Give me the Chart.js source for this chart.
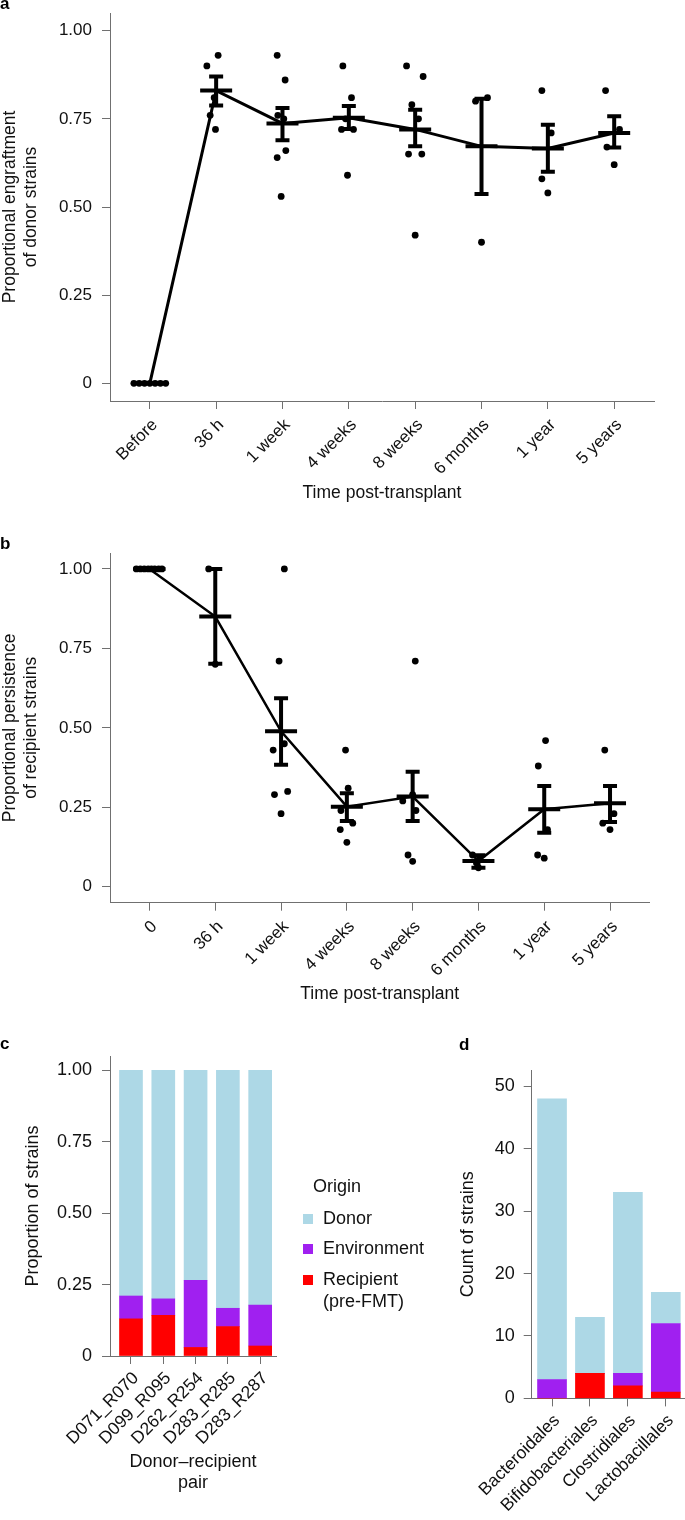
<!DOCTYPE html>
<html>
<head>
<meta charset="utf-8">
<script src="https://cdn.jsdelivr.net/npm/chart.js@4.4.1/dist/chart.umd.min.js"></script>
<style>
  body { margin: 0; background: #fff; }
  #page { position: relative; width: 685px; height: 1520px; overflow: hidden; font-family: "Liberation Sans", Arial, sans-serif; }
  canvas { position: absolute; }
  .tag { position: absolute; font-weight: bold; font-size: 17px; line-height: 1; color: #000; }
</style>
</head>
<body>
<div id="page">
  <canvas id="chartA" width="685" height="523" style="left:0;top:-8px"></canvas>
  <canvas id="chartB" width="685" height="495" style="left:0;top:525px"></canvas>
  <canvas id="chartC" width="440" height="490" style="left:0;top:1030px"></canvas>
  <canvas id="chartD" width="245" height="490" style="left:440px;top:1030px"></canvas>
  <span class="tag" style="left:0;top:-5px">a</span>
  <span class="tag" style="left:0;top:535px">b</span>
  <span class="tag" style="left:0;top:1035px">c</span>
  <span class="tag" style="left:459px;top:1036px">d</span>
</div>
<script>
// a: engraftment of donor strains
const timesA = ['Before', '36 h', '1 week', '4 weeks', '8 weeks', '6 months', '1 year', '5 years'];
const meanA = [0, 0.83, 0.737, 0.753, 0.72, 0.672, 0.666, 0.71];
const lowA = [0, 0.788, 0.689, 0.721, 0.672, 0.537, 0.60, 0.669];
const highA = [0, 0.870, 0.781, 0.786, 0.776, 0.807, 0.733, 0.757];
const pointsA = [
    [0, 0, 0, 0, 0, 0, 0],
    [0.90, 0.93, 0.76, 0.72, 0.81],
    [0.93, 0.86, 0.76, 0.75, 0.66, 0.64, 0.53],
    [0.90, 0.81, 0.75, 0.72, 0.72, 0.59],
    [0.90, 0.87, 0.79, 0.75, 0.65, 0.65, 0.42],
    [0.80, 0.81, 0.40],
    [0.83, 0.71, 0.58, 0.54],
    [0.83, 0.72, 0.67, 0.62]
];
const jitterA = [
    [-0.24, -0.16, -0.08, 0, 0.08, 0.16, 0.24],
    [-0.14, 0.03, -0.09, -0.01, -0.03],
    [-0.08, 0.04, -0.07, 0.02, 0.05, -0.08, -0.02],
    [-0.09, 0.04, -0.05, -0.11, 0.07, -0.02],
    [-0.13, 0.12, -0.05, 0.05, -0.10, 0.10, 0],
    [-0.09, 0.09, 0],
    [-0.09, 0.05, -0.09, 0],
    [-0.13, 0.08, -0.11, 0]
];

// b: persistence of recipient strains
const timesB = ['0', '36 h', '1 week', '4 weeks', '8 weeks', '6 months', '1 year', '5 years'];
const meanB = [1.0, 0.85, 0.489, 0.252, 0.284, 0.081, 0.244, 0.263];
const lowB = [1.0, 0.702, 0.384, 0.207, 0.207, 0.060, 0.170, 0.204];
const highB = [1.0, 1.0, 0.593, 0.294, 0.362, 0.099, 0.317, 0.317];
const pointsB = [
    [1, 1, 1, 1, 1, 1, 1, 1],
    [1.00, 0.70],
    [1.00, 0.71, 0.43, 0.45, 0.29, 0.30, 0.23],
    [0.43, 0.31, 0.24, 0.20, 0.18, 0.14],
    [0.71, 0.29, 0.27, 0.24, 0.10, 0.08],
    [0.10, 0.09, 0.075, 0.06],
    [0.46, 0.38, 0.18, 0.10, 0.09],
    [0.43, 0.23, 0.20, 0.18]
];
const jitterB = [
    [-0.2, -0.14, -0.08, -0.02, 0.03, 0.08, 0.14, 0.19],
    [-0.10, 0],
    [0.05, -0.03, -0.12, 0.05, -0.10, 0.10, 0],
    [-0.02, 0.02, -0.09, 0.09, -0.10, 0],
    [0.04, 0, -0.15, 0.05, -0.07, 0],
    [-0.09, 0.02, -0.03, 0],
    [0.02, -0.09, 0.05, -0.10, 0],
    [-0.08, 0.06, -0.11, 0]
];

// c: origin of strains per donor-recipient pair
const pairs = ['D071_R070', 'D099_R095', 'D262_R254', 'D283_R285', 'D283_R287'];
const recipientC = [0.13, 0.142, 0.03, 0.103, 0.035];
const environmentC = [0.08, 0.058, 0.235, 0.064, 0.143];
const donorC = [0.79, 0.80, 0.735, 0.833, 0.822];

// d: counts per order
const orders = ['Bacteroidales', 'Bifidobacteriales', 'Clostridiales', 'Lactobacillales'];
const recipientD = [0, 4, 2, 1];
const environmentD = [3, 0, 2, 11];
const donorD = [45, 9, 29, 5];

const originNames = ['Donor', 'Environment', 'Recipient', '(pre-FMT)'];
const DONOR = '#add8e6', ENV = '#a020f0', REC = '#ff0000';
const AXIS = '#707070';
const INK = '#111';
const FONT = '"Liberation Sans", Arial, sans-serif';

function axisStyle(fontSize, pad) {
    return {
        border: { display: true, color: AXIS, width: 1 },
        grid: { display: true, offset: false, drawOnChartArea: false, drawTicks: true, tickLength: 8, tickColor: AXIS, tickWidth: 1 },
        ticks: { color: INK, font: { family: FONT, size: fontSize }, padding: pad, autoSkip: false }
    };
}

function fixedTicks(values) {
    return s => { s.ticks = values.map(v => ({ value: v })); };
}

// mean + error bars drawn through the chart scales
function errorBars(mean, low, high) {
    return {
        id: 'errorBars',
        afterDatasetsDraw(chart) {
            const { ctx, scales: { x, y } } = chart;
            ctx.save();
            ctx.strokeStyle = '#000';
            ctx.lineWidth = 4;
            mean.forEach((m, i) => {
                const px = x.getPixelForValue(i);
                const pm = y.getPixelForValue(m);
                const pl = y.getPixelForValue(low[i]);
                const ph = y.getPixelForValue(high[i]);
                ctx.beginPath();
                if (ph !== pl) {
                    ctx.moveTo(px, pl); ctx.lineTo(px, ph);
                    ctx.moveTo(px - 7, pl); ctx.lineTo(px + 7, pl);
                    ctx.moveTo(px - 7, ph); ctx.lineTo(px + 7, ph);
                }
                ctx.moveTo(px - 16, pm); ctx.lineTo(px + 16, pm);
                ctx.stroke();
            });
            ctx.restore();
        }
    };
}

function timeChart(id, labels, mean, low, high, points, jitter, opt) {
    const dots = [];
    points.forEach((grp, i) => grp.forEach((v, j) => dots.push({ x: i + jitter[i][j], y: v })));
    const xs = axisStyle(17, 6);
    const ys = axisStyle(17, 10);
    new Chart(document.getElementById(id), {
        type: 'line',
        data: {
            datasets: [
                { data: mean.map((m, i) => ({ x: i, y: m })), borderColor: '#000', borderWidth: opt.lineWidth, pointRadius: 0, tension: 0 },
                { data: dots, showLine: false, pointRadius: 3.4, pointBackgroundColor: '#000', pointBorderWidth: 0 }
            ]
        },
        options: {
            responsive: false,
            animation: false,
            events: [],
            layout: { padding: { left: 0, top: opt.top, right: opt.right, bottom: 0 } },
            plugins: { legend: { display: false }, tooltip: { enabled: false } },
            scales: {
                x: {
                    type: 'linear', min: -0.6, max: 7.6, offset: false,
                    border: xs.border, grid: xs.grid,
                    ticks: Object.assign(xs.ticks, { minRotation: 45, maxRotation: 45, labelOffset: 5, callback: v => labels[v] }),
                    afterBuildTicks: fixedTicks(labels.map((_, i) => i)),
                    afterFit: s => { s.height = opt.xHeight; },
                    title: { display: true, text: 'Time post-transplant', color: INK, font: { family: FONT, size: 17.5 }, padding: { top: 0, bottom: opt.titlePad } }
                },
                y: {
                    type: 'linear', min: -0.05, max: 1.05,
                    border: ys.border, grid: ys.grid,
                    ticks: Object.assign(ys.ticks, { callback: v => v === 0 ? '0' : v.toFixed(2) }),
                    afterBuildTicks: fixedTicks([0, 0.25, 0.5, 0.75, 1]),
                    afterFit: s => { s.width = 110; },
                    title: { display: true, text: opt.yTitle, color: INK, font: { family: FONT, size: 17.5 }, padding: { top: 0, bottom: 0 } }
                }
            }
        },
        plugins: [errorBars(mean, low, high)]
    });
}

timeChart('chartA', timesA, meanA, lowA, highA, pointsA, jitterA, {
    top: 21, right: 31, xHeight: 114, titlePad: 11, lineWidth: 3,
    yTitle: ['Proportional engraftment', 'of donor strains']
});
timeChart('chartB', timesB, meanB, lowB, highB, pointsB, jitterB, {
    top: 28, right: 35.5, xHeight: 117.3, titlePad: 15, lineWidth: 2.5,
    yTitle: ['Proportional persistence', 'of recipient strains']
});

function stackedChart(id, labels, rec, env, don, opt, extra) {
    const xs = axisStyle(17.5, 4);
    const ys = axisStyle(18, opt.yPad);
    const pts = arr => arr.map((v, i) => ({ x: i, y: v }));
    new Chart(document.getElementById(id), {
        type: 'bar',
        data: {
            datasets: [
                { label: originNames[2], data: pts(rec), backgroundColor: REC, barThickness: opt.bar },
                { label: originNames[1], data: pts(env), backgroundColor: ENV, barThickness: opt.bar },
                { label: originNames[0], data: pts(don), backgroundColor: DONOR, barThickness: opt.bar }
            ]
        },
        options: {
            responsive: false,
            animation: false,
            events: [],
            layout: { padding: { left: 0, top: opt.top, right: opt.right, bottom: 0 } },
            plugins: { legend: { display: false }, tooltip: { enabled: false } },
            scales: {
                x: {
                    type: 'linear', stacked: true, min: opt.xMin, max: opt.xMax, offset: false,
                    border: xs.border, grid: xs.grid,
                    ticks: Object.assign(xs.ticks, { minRotation: 45, maxRotation: 45, labelOffset: 5, callback: v => labels[v] }),
                    afterBuildTicks: fixedTicks(labels.map((_, i) => i)),
                    afterFit: s => { s.height = opt.xHeight; },
                    title: { display: !!opt.xTitle, text: opt.xTitle, color: INK, font: { family: FONT, size: 18 }, padding: { top: 0, bottom: opt.titlePad } }
                },
                y: {
                    type: 'linear', stacked: true, min: 0, max: opt.yMax,
                    border: ys.border, grid: ys.grid,
                    ticks: Object.assign(ys.ticks, { callback: opt.fmt }),
                    afterBuildTicks: fixedTicks(opt.yTicks),
                    afterFit: s => { s.width = opt.yWidth; },
                    title: { display: true, text: opt.yTitle, color: INK, font: { family: FONT, size: 18 }, padding: { top: opt.yTitlePad, bottom: 0 } }
                }
            }
        },
        plugins: extra
    });
}

const originLegend = {
    id: 'originLegend',
    afterDraw(chart) {
        const ctx = chart.ctx;
        ctx.save();
        ctx.font = '18px ' + FONT;
        ctx.fillStyle = INK;
        ctx.textBaseline = 'middle';
        ctx.textAlign = 'left';
        ctx.fillText('Origin', 313, 157);
        const keys = [[originNames[0], DONOR, 189], [originNames[1], ENV, 219], [originNames[2], REC, 250]];
        keys.forEach(([name, col, y]) => {
            ctx.fillStyle = col;
            ctx.fillRect(303, y - 5, 10, 10);
            ctx.fillStyle = INK;
            ctx.fillText(name, 323, y);
        });
        ctx.fillText(originNames[3], 323, 272);
        ctx.restore();
    }
};

stackedChart('chartC', pairs, recipientC, environmentC, donorC, {
    bar: 23, top: 26, right: 164, xHeight: 164, titlePad: 26, xMin: -0.65, xMax: 4.49,
    xTitle: ['Donor\u2013recipient', 'pair'], yTitle: 'Proportion of strains', yTitlePad: 22.5,
    yMax: 1.05, yTicks: [0, 0.25, 0.5, 0.75, 1], yWidth: 110, yPad: 10,
    fmt: v => v === 0 ? '0' : v.toFixed(2)
}, [originLegend]);

stackedChart('chartD', orders, recipientD, environmentD, donorD, {
    bar: 29, top: 40, right: 1, xHeight: 121.6, titlePad: 0, xMin: -0.536, xMax: 3.48,
    xTitle: '', yTitle: 'Count of strains', yTitlePad: 17.5,
    yMax: 52.6, yTicks: [0, 10, 20, 30, 40, 50], yWidth: 91.7, yPad: 9,
    fmt: v => String(v)
}, []);
</script>
</body>
</html>
